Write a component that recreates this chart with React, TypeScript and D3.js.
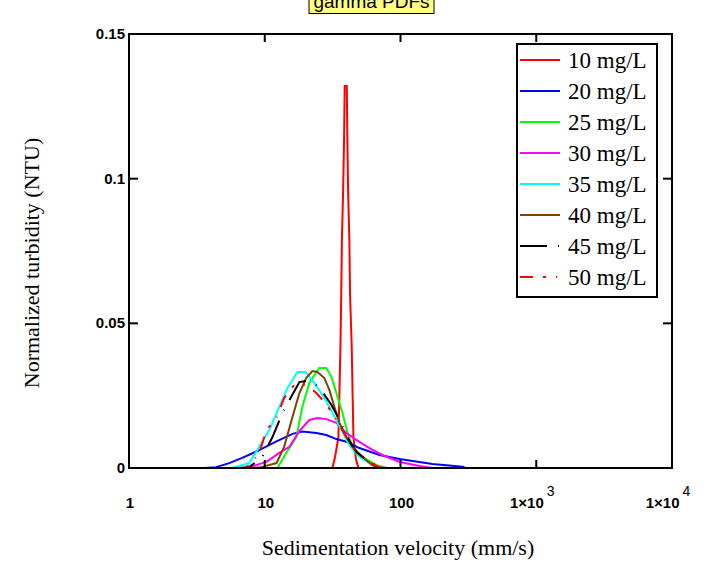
import { useMemo } from "react"
import * as d3 from "d3"

// velocity (mm/s) vs normalized turbidity
const c10 = [
  [1, 0], [31.5, 0], [33, 0.004], [34.9, 0.0107], [36.1, 0.042], [36.6, 0.06], [37, 0.079],
  [37.8, 0.096], [38.4, 0.114], [38.8, 0.132], [40.2, 0.132], [40.6, 0.114], [41.1, 0.096],
  [42, 0.079], [42.5, 0.06], [43.7, 0.042], [45, 0.0107], [47, 0.003], [49, 0], [10000, 0],
]
const c20 = [
  [1, 0], [3.58, 0], [4.39, 0.0003], [5.47, 0.0017], [6.82, 0.0035], [9.1, 0.0062], [12.2, 0.0092],
  [16, 0.0118], [18.9, 0.0126], [24, 0.0121], [28.4, 0.0114], [33.7, 0.01], [39.9, 0.0091],
  [49.8, 0.0069], [70, 0.0045], [98.4, 0.0031], [172, 0.0014], [287, 0.0004], [300, 0], [10000, 0],
]
const c25 = [
  [1, 0], [12.4, 0], [14.4, 0.0052], [17.1, 0.0107], [18.9, 0.0211], [21.3, 0.0294], [24, 0.0332],
  [25.2, 0.0346], [28.4, 0.0346], [31, 0.0315], [33.7, 0.0259], [37.4, 0.019], [40.6, 0.0124],
  [44.2, 0.0073], [52.5, 0.0038], [66.5, 0.001], [78.8, 0], [10000, 0],
]
const c30 = [
  [1, 0], [6.48, 0], [7.69, 0.0003], [10.3, 0.0021], [12.8, 0.0052], [15.2, 0.0073], [18, 0.0128],
  [21.3, 0.0166], [24.4, 0.0173], [28.4, 0.0169], [33.7, 0.0156], [39.9, 0.0121], [47.3, 0.0097],
  [59, 0.0069], [73.6, 0.0045], [98.4, 0.0021], [138, 0.0007], [172, 0], [10000, 0],
]
const c35 = [
  [1, 0], [5.75, 0], [7.69, 0.0017], [9.1, 0.0073], [10.8, 0.0131], [12.8, 0.0211], [14.7, 0.0277],
  [17.4, 0.0332], [19.9, 0.0332], [23.2, 0.0294], [26.6, 0.0252], [29.9, 0.0211], [33.7, 0.0166],
  [37.4, 0.0124], [42, 0.0079], [49.8, 0.0038], [62.1, 0.001], [70, 0], [10000, 0],
]
const c40 = [
  [1, 0], [7.69, 0], [9.42, 0.0003], [12.2, 0.0017], [13.9, 0.0073], [16, 0.0176], [18, 0.0259],
  [20.2, 0.0311], [22.4, 0.0335], [24.4, 0.0332], [27.5, 0.0311], [29.9, 0.027], [32.6, 0.0211],
  [35.5, 0.0156], [39.9, 0.0107], [44.2, 0.0073], [52.5, 0.0038], [62.1, 0.001], [70, 0], [10000, 0],
]
const c45 = [
  [1, 0], [6.48, 0], [7.69, 0.0003], [9.59, 0.0038], [11.4, 0.0107], [13.5, 0.019], [15.2, 0.0235],
  [18, 0.0297], [20.2, 0.0301], [23.2, 0.0294], [26.6, 0.0263], [31, 0.0218], [35.5, 0.0166],
  [40.6, 0.0107], [47.3, 0.0055], [56.1, 0.0028], [70, 0.0003], [80, 0], [10000, 0],
]
const c50 = [
  [1, 0], [5.95, 0], [7.69, 0.0007], [9.1, 0.0052], [10.3, 0.0131], [12.2, 0.0173], [13.9, 0.0242],
  [16.5, 0.0287], [18.6, 0.029], [21.3, 0.028], [24, 0.0259], [28.4, 0.0221], [33.7, 0.0166],
  [39.9, 0.0107], [47.3, 0.0055], [56.1, 0.0024], [70, 0.0003], [80, 0], [10000, 0],
]

const seriesNames = ["10 mg/L", "20 mg/L", "25 mg/L", "30 mg/L", "35 mg/L", "40 mg/L", "45 mg/L", "50 mg/L"]
const seriesData = [c10, c20, c25, c30, c35, c40, c45, c50]
const seriesColors = ["#ff0000", "#0000ff", "#00ff00", "#ff00ff", "#00ffff", "#804000", "#000000", "#ff0000"]
const seriesDash = ["", "", "", "", "", "", "27 11 1 11", "13 10 3 10 1 10"]

const xTicks = [1, 10, 100, 1000, 10000]
const xTickBase = ["1", "10", "100", "1\u00d710", "1\u00d710"]
const xTickExp = ["", "", "", "3", "4"]
const yTicks = [0, 0.05, 0.1, 0.15]
const yTickLabels = ["0", "0.05", "0.1", "0.15"]

export default function App() {
  const width = 727
  const height = 573
  const left = 129
  const right = 672
  const top = 34
  const bottom = 468

  const x = useMemo(() => d3.scaleLog().domain([1, 10000]).range([left, right]), [])
  const y = useMemo(() => d3.scaleLinear().domain([0, 0.15]).range([bottom, top]), [])
  const line = d3
    .line<number[]>()
    .x((d) => x(d[0]))
    .y((d) => y(d[1]))

  const tickFont = "'Liberation Sans', Arial, sans-serif"
  const serif = "'Liberation Serif', 'Times New Roman', serif"

  return (
    <svg width={width} height={height} style={{ position: "absolute", left: 0, top: 0, background: "#fff" }}>
      <defs>
        <clipPath id="plot-clip">
          <rect x={left} y={top - 2} width={right - left} height={bottom - top + 4} />
        </clipPath>
      </defs>

      {/* title box, cut off at the top like the original */}
      <rect x={309} y={-10} width={125} height={23.5} fill="#ffff80" stroke="#000" strokeWidth={1} />
      <text x={371.5} y={8} textAnchor="middle" fontFamily={tickFont} fontSize={19} fill="#000">
        gamma PDFs
      </text>

      {/* curves */}
      <g clipPath="url(#plot-clip)">
        {seriesData.map((d, i) => (
          <path
            key={seriesNames[i]}
            d={line(d) || ""}
            fill="none"
            stroke={seriesColors[i]}
            strokeWidth={2}
            strokeDasharray={seriesDash[i] || undefined}
          />
        ))}
      </g>

      {/* frame */}
      <rect x={left} y={top} width={right - left} height={bottom - top} fill="none" stroke="#000" strokeWidth={2} />

      {/* inner ticks */}
      {xTicks.slice(1, -1).map((t) => (
        <g key={"xt" + t}>
          <line x1={x(t)} x2={x(t)} y1={top} y2={top + 8} stroke="#000" strokeWidth={2} />
          <line x1={x(t)} x2={x(t)} y1={bottom} y2={bottom - 8} stroke="#000" strokeWidth={2} />
        </g>
      ))}
      {yTicks.slice(1, -1).map((t) => (
        <g key={"yt" + t}>
          <line x1={left} x2={left + 9} y1={y(t)} y2={y(t)} stroke="#000" strokeWidth={2} />
          <line x1={right} x2={right - 9} y1={y(t)} y2={y(t)} stroke="#000" strokeWidth={2} />
        </g>
      ))}

      {/* tick labels */}
      {yTicks.map((t, i) => (
        <text
          key={"yl" + t}
          x={left - 4}
          y={y(t) + 5}
          textAnchor="end"
          fontFamily={tickFont}
          fontWeight="bold"
          fontSize={15}
          fill="#000"
        >
          {yTickLabels[i]}
        </text>
      ))}
      {xTicks.map((t, i) => (
        <text
          key={"xl" + t}
          x={x(t) + (xTickExp[i] ? -4 : 1)}
          y={508}
          textAnchor="middle"
          fontFamily={tickFont}
          fontWeight="bold"
          fontSize={15}
          fill="#000"
        >
          {xTickBase[i]}
          {xTickExp[i] && (
            <tspan dx={3} dy={-12} fontWeight="normal" fontSize={14}>
              {xTickExp[i]}
            </tspan>
          )}
        </text>
      ))}

      {/* axis titles */}
      <text x={398} y={555} textAnchor="middle" fontFamily={serif} fontSize={22} fill="#000">
        Sedimentation velocity (mm/s)
      </text>
      <text
        transform={`translate(39,${(top + bottom) / 2 + 12}) rotate(-90)`}
        textAnchor="middle"
        fontFamily={serif}
        fontSize={22}
        fill="#000"
      >
        Normalized turbidity (NTU)
      </text>

      {/* legend */}
      <rect x={517} y={44} width={140} height={253} fill="#fff" stroke="#000" strokeWidth={2} />
      {seriesNames.map((name, i) => {
        const ly = 60 + i * 31
        return (
          <g key={"lg" + name}>
            <line
              x1={520}
              x2={560}
              y1={ly}
              y2={ly}
              stroke={seriesColors[i]}
              strokeWidth={2}
              strokeDasharray={seriesDash[i] || undefined}
            />
            <text x={568} y={ly + 8} fontFamily={serif} fontSize={23} fill="#000">
              {name}
            </text>
          </g>
        )
      })}
    </svg>
  )
}
